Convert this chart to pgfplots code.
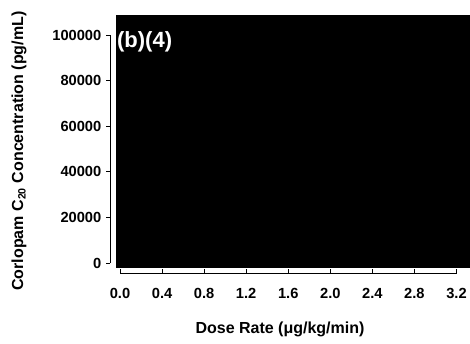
\documentclass[border=0pt]{standalone}
\usepackage{fontspec}
\setmainfont{Liberation Sans}
\usepackage{pgfplots}
\pgfplotsset{compat=1.18}
\begin{document}
\begin{tikzpicture}
\useasboundingbox (0pt,0pt) rectangle (352.5pt,257.25pt);
\begin{axis}[
  at={(90pt,60pt)}, anchor=south west,
  scale only axis, width=252.375pt, height=171pt,
  xmin=0, xmax=3.2, ymin=0, ymax=100000,
  clip=false,
  axis lines=left, separate axis lines,
  axis line style={-, black, line width=0.6pt},
  axis x line shift=7.5pt, axis y line shift=7.5pt,
  xtick={0,0.4,0.8,1.2,1.6,2.0,2.4,2.8,3.2},
  xticklabels={0.0,0.4,0.8,1.2,1.6,2.0,2.4,2.8,3.2},
  ytick={0,20000,40000,60000,80000,100000},
  yticklabels={0,20000,40000,60000,80000,100000},
  scaled y ticks=false,
  xtick align=inside, ytick align=outside,
  major tick length=3pt,
  tick style={black, line width=0.6pt},
  tick label style={font=\fontsize{11}{13}\selectfont\bfseries},
  xticklabel style={yshift=-8pt},
  xlabel={Dose Rate (μg/kg/min)},
  ylabel={Corlopam C\textsubscript{20} Concentration (pg/mL)},
  label style={font=\fontsize{12}{14}\selectfont\bfseries},
  xlabel style={at={(axis description cs:0.4755,0)}, anchor=base, yshift=-52.5pt},
  ylabel style={at={(axis description cs:-0.3,0.491)}, anchor=center},
]
\addplot[fill=black, draw=none] coordinates {(-0.038,-2190) (3.33,-2190) (3.33,108770) (-0.038,108770)} -- cycle;
\node[anchor=north west, text=white, font=\fontsize{16.5}{18}\selectfont\bfseries, inner sep=0pt] at (axis cs:-0.03,101800) {(b)(4)};
\end{axis}
\end{tikzpicture}
\end{document}
